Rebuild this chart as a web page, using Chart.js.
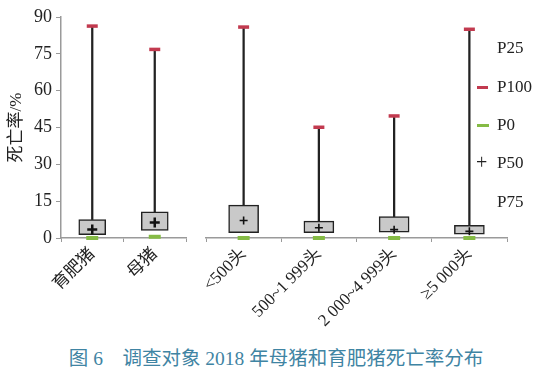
<!DOCTYPE html>
<html>
<head>
<meta charset="utf-8">
<script src="https://cdn.jsdelivr.net/npm/chart.js@4.4.0/dist/chart.umd.min.js"></script>
<style>
  body { margin: 0; background: #fff; }
  #wrap { position: relative; width: 542px; height: 377px; background: #fff; }
  #leftBox { position: absolute; left: 0; top: 0; width: 196px; height: 330px; }
  #rightBox { position: absolute; left: 196px; top: 0; width: 346px; height: 330px; }
  .leg { position: absolute; left: 497px; font: 17px "Liberation Serif", serif; color: #222; line-height: 20px; }
  .mk { position: absolute; left: 477px; width: 11px; height: 3px; }
  #caption { position: absolute; left: 0; top: 342px; width: 552px; text-align: center;
    font: 19.5px "Liberation Serif", "Noto Sans CJK SC", serif; color: #3f84a3; white-space: pre; }
</style>
</head>
<body>
<div id="wrap">
  <div id="leftBox"><canvas id="leftChart"></canvas></div>
  <div id="rightBox"><canvas id="rightChart"></canvas></div>
  <div class="leg" style="top:38px">P25</div>
  <div class="mk" style="top:86px;background:#c23a4f"></div>
  <div class="leg" style="top:77px">P100</div>
  <div class="mk" style="top:124px;background:#85bb45;width:12px"></div>
  <div class="leg" style="top:115px">P0</div>
  <div class="leg" style="top:152px;left:476px;font-size:20px">+</div>
  <div class="leg" style="top:153px">P50</div>
  <div class="leg" style="top:192px">P75</div>
  <div id="caption">图 6    调查对象 2018 年母猪和育肥猪死亡率分布</div>
</div>
<script>
// 育肥猪 / 母猪
const groupLabels = ['育肥猪', '母猪'];
const groupP0 = [0, 0.5];
const groupP25 = [1.4, 3.1];
const groupP50 = [3.5, 6.3];
const groupP75 = [7.5, 10.7];
const groupP100 = [86.3, 76.8];

// 按规模
const scaleLabels = ['<500头', '500~1 999头', '2 000~4 999头', '≥5 000头'];
const scaleP0 = [0, 0, 0, 0];
const scaleP25 = [2.2, 2.2, 2.4, 1.6];
const scaleP50 = [7.1, 4.2, 3.4, 2.7];
const scaleP75 = [13.4, 6.9, 8.7, 5.2];
const scaleP100 = [85.9, 45.1, 49.7, 85.0];

const yTicks = [0, 15, 30, 45, 60, 75, 90];

const axisColor = '#9a9a9a';
const labelFont = { family: '"Liberation Serif", "Noto Sans CJK SC", serif', size: 17 };

function BoxChart(id, labels, p0, p25, p50, p75, p100, opt) {
    const ctx = document.getElementById(id);
    const box = [], whisker = [];
    for (let i = 0; i < labels.length; i++) {
        box.push([p25[i], p75[i]]);
        whisker.push([p75[i], p100[i]]);
    }
    return new Chart(ctx, {
        data: {
            labels: labels,
            datasets: [{
                type: 'line', label: 'P50', data: p50, showLine: false, clip: false,
                pointStyle: 'cross', pointRadius: opt.plusSize, pointHoverRadius: opt.plusSize,
                pointBorderWidth: opt.plusWidth, pointBorderColor: '#111', order: 0
            }, {
                type: 'line', label: 'P100', data: p100, showLine: false, clip: false,
                pointStyle: 'line', pointRadius: 5.5, pointHoverRadius: 5.5,
                pointBorderWidth: 3.5, pointBorderColor: '#c23a4f', order: 1
            }, {
                type: 'line', label: 'P0', data: p0, showLine: false, clip: false,
                pointStyle: 'line', pointRadius: 6, pointHoverRadius: 6,
                pointBorderWidth: 4, pointBorderColor: '#85bb45', order: 1
            }, {
                type: 'bar', label: 'box', data: box, grouped: false,
                barThickness: opt.boxWidth, backgroundColor: '#c9c9c9',
                borderColor: '#222', borderWidth: 1.5, borderSkipped: false, order: 3
            }, {
                type: 'bar', label: 'whisker', data: whisker, grouped: false,
                barThickness: 1.6, backgroundColor: '#222', order: 4
            }]
        },
        options: {
            responsive: true,
            maintainAspectRatio: false,
            animation: false,
            layout: { padding: opt.padding },
            plugins: { legend: { display: false }, tooltip: { enabled: false } },
            scales: {
                x: {
                    offset: true,
                    grid: { offset: true, drawOnChartArea: false, tickLength: 4, color: axisColor },
                    border: { color: axisColor, width: 1.5 },
                    ticks: { color: '#222', font: labelFont, maxRotation: 45, minRotation: 45, autoSkip: false, padding: 2 },
                    afterFit: function (s) {
                        s.height = 92;
                        s.paddingLeft = 0;
                        s.paddingRight = 0;
                    }
                },
                y: {
                    display: opt.showY,
                    min: 0, max: 90,
                    afterBuildTicks: function (s) { s.ticks = yTicks.map(v => ({ value: v })); },
                    grid: { drawOnChartArea: false, tickLength: 5, color: axisColor },
                    border: { color: axisColor, width: 1.5 },
                    ticks: { color: '#222', font: { family: '"Liberation Serif", serif', size: 18 }, padding: 4 },
                    title: { display: true, text: '死亡率/%', color: '#222',
                        font: { family: '"Liberation Serif", "Noto Sans CJK SC", serif', size: 17 }, padding: { top: 6, bottom: 0 } },
                    afterFit: function (s) { s.width = opt.showY ? 61 : 0; }
                }
            }
        }
    });
}

BoxChart('leftChart', groupLabels, groupP0, groupP25, groupP50, groupP75, groupP100,
    { showY: true, boxWidth: 27, plusSize: 5, plusWidth: 2.5, padding: { top: 17, right: 6, left: 0 } });
BoxChart('rightChart', scaleLabels, scaleP0, scaleP25, scaleP50, scaleP75, scaleP100,
    { showY: false, boxWidth: 30, plusSize: 4, plusWidth: 1.6, padding: { top: 17, right: 35, left: 7 } });
</script>
</body>
</html>
